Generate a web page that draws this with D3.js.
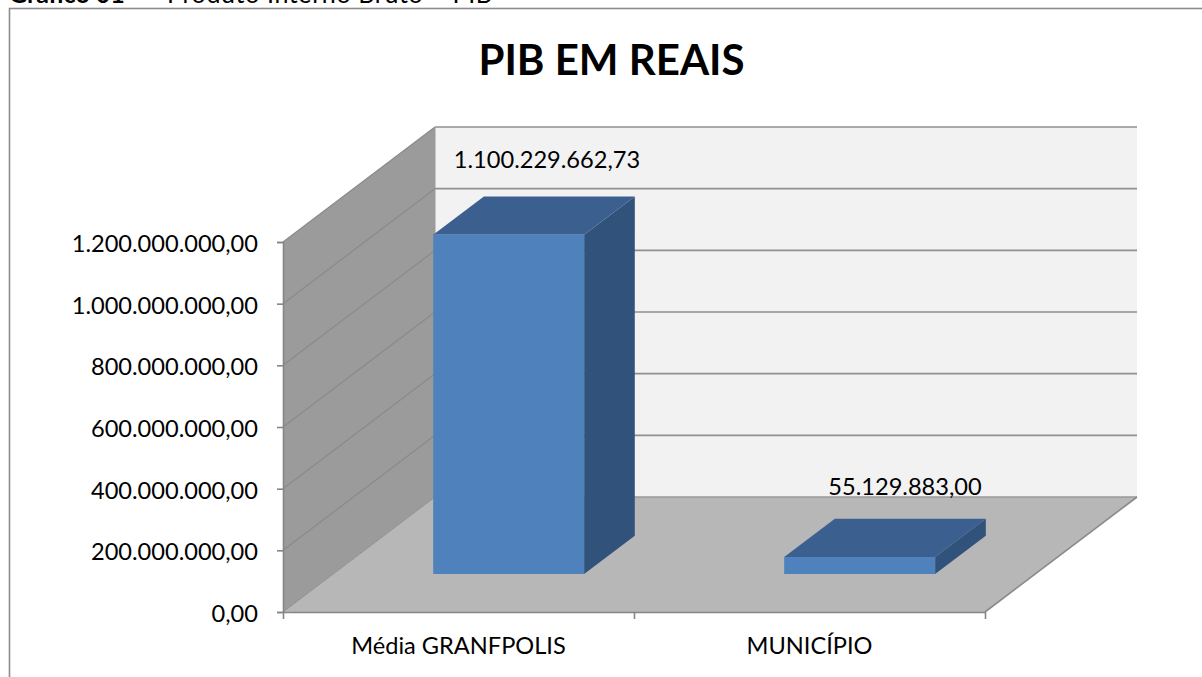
<!DOCTYPE html>
<html>
<head>
<meta charset="utf-8">
<script src="https://cdn.jsdelivr.net/npm/d3@7"></script>
<style>
html,body{margin:0;padding:0;background:#fff;}
svg{display:block;font-family:Lato,sans-serif;}
</style>
</head>
<body>
<svg id="chart" width="1202" height="677"></svg>
<script>
var categories=['Média GRANFPOLIS','MUNICÍPIO'];
var values=[1100229662.73,55129883.00];
var valueLabels=['1.100.229.662,73','55.129.883,00'];
var yTicks=[0,200000000,400000000,600000000,800000000,1000000000,1200000000];
var yTickLabels=['0,00','200.000.000,00','400.000.000,00','600.000.000,00','800.000.000,00','1.000.000.000,00','1.200.000.000,00'];

var svg=d3.select('#chart');

// 3d box: front plane of the floor and how far the back wall is shifted
var left=283,right=985,bottom=612,top_=242;
var depthX=152,depthY=-115;
var barDepth=0.3333,barOffset=0.33; // fraction of the depth
var fontSize='23.6px';

var x=d3.scaleBand().domain(categories).range([left,right]).paddingInner(0).paddingOuter(0);
var y=d3.scaleLinear().domain([0,1200000000]).range([bottom,top_]);

function poly(pts,fill,stroke){
    return svg.append('polygon')
        .attr('points',pts.map(p=>p.join(',')).join(' '))
        .attr('fill',fill)
        .attr('stroke',stroke||'none');
}
function line(x1,y1,x2,y2,color,w){
    svg.append('line').attr('x1',x1).attr('y1',y1).attr('x2',x2).attr('y2',y2)
        .attr('stroke',color).attr('stroke-width',w||1);
}

//frame
svg.append('rect').attr('x',9.5).attr('y',8.5).attr('width',1220).attr('height',700)
    .attr('fill','#fff').attr('stroke','#8c8c8c').attr('stroke-width',1.6);

//caption cut by the top of the page
var cap=svg.append('text').attr('y',3).style('font-size','25px').style('font-family','Lato');
cap.append('tspan').attr('x',9).style('font-weight',700).text('Gráfico 01');
cap.append('tspan').attr('x',140).text('–');
cap.append('tspan').attr('x',167).attr('textLength',325).text('Produto Interno Bruto – PIB');

//title
svg.append('text').attr('x',611.5).attr('y',74.5).attr('text-anchor','middle')
    .style('font-size','42px').style('font-weight',700).style('font-family','Lato').text('PIB EM REAIS');

//back wall
poly([[left+depthX,y(1200000000)+depthY],[right+depthX,y(1200000000)+depthY],[right+depthX,bottom+depthY],[left+depthX,bottom+depthY]],'#f2f2f2');
//side wall
poly([[left,y(1200000000)],[left+depthX,y(1200000000)+depthY],[left+depthX,bottom+depthY],[left,bottom]],'#9b9b9b');
//floor
poly([[left,bottom],[right,bottom],[right+depthX,bottom+depthY],[left+depthX,bottom+depthY]],'#b7b7b7');

//gridlines
yTicks.forEach(function(t){
    var yy=y(t);
    if(t>0){
        line(left,yy,left+depthX,yy+depthY,'#8a8a8a',1.2);
        line(left+depthX,yy+depthY,right+depthX,yy+depthY,'#8f8f8f',1.6);
    }
});
line(left,bottom,left+depthX,bottom+depthY,'#8f8f8f',1);
line(left+depthX,bottom+depthY,right+depthX,bottom+depthY,'#9a9a9a',1.3);
line(right,bottom,right+depthX,bottom+depthY,'#8a8a8a',1.6);
line(left+depthX,y(1200000000)+depthY,left+depthX,bottom+depthY,'#9a9a9a',1);

//bars
categories.forEach(function(c,i){
    var bw=x.bandwidth()*0.43;
    var ox=depthX*barOffset,oy=depthY*barOffset;
    var dx=depthX*barDepth,dy=depthY*barDepth;
    var x0=x(c)+(x.bandwidth()-bw)/2+ox;
    var x1=x0+bw;
    var y0=bottom+oy;
    var y1=y(values[i])+oy;
    poly([[x1,y1],[x1+dx,y1+dy],[x1+dx,y0+dy],[x1,y0]],'#31527a');
    poly([[x0,y1],[x1,y1],[x1+dx,y1+dy],[x0+dx,y1+dy]],'#3b6090');
    poly([[x0,y1],[x1,y1],[x1,y0],[x0,y0]],'#4f81bd');
});

//value labels
var labelPos=[[547,168],[905,495]];
valueLabels.forEach(function(l,i){
    svg.append('text').attr('x',labelPos[i][0]).attr('y',labelPos[i][1]).attr('text-anchor','middle')
        .style('font-size',fontSize).style('font-family','Lato').attr('fill','#000').text(l);
});

//axes
var yAxis=d3.axisLeft(y).tickValues(yTicks).tickFormat((d,i)=>yTickLabels[i]).tickSize(6).tickPadding(19);
var gy=svg.append('g').attr('transform','translate('+left+',0)').call(yAxis);
gy.selectAll('text').attr('dy','0.4em');
var xAxis=d3.axisBottom(d3.scaleLinear().domain([0,categories.length]).range([left,right]))
    .tickValues(d3.range(categories.length+1)).tickFormat('').tickSize(7).tickSizeOuter(0);
var gx=svg.append('g').attr('transform','translate(0,'+bottom+')').call(xAxis);
[gy,gx].forEach(function(g){
    g.selectAll('path,line').attr('stroke','#868686').attr('stroke-width',1.6);
    g.selectAll('text').style('font-size',fontSize).style('font-family','Lato').attr('fill','#000');
});

categories.forEach(function(c){
    svg.append('text').attr('x',x(c)+x.bandwidth()/2).attr('y',654).attr('text-anchor','middle')
        .style('font-size',fontSize).style('font-family','Lato').text(c);
});
</script>
</body>
</html>
